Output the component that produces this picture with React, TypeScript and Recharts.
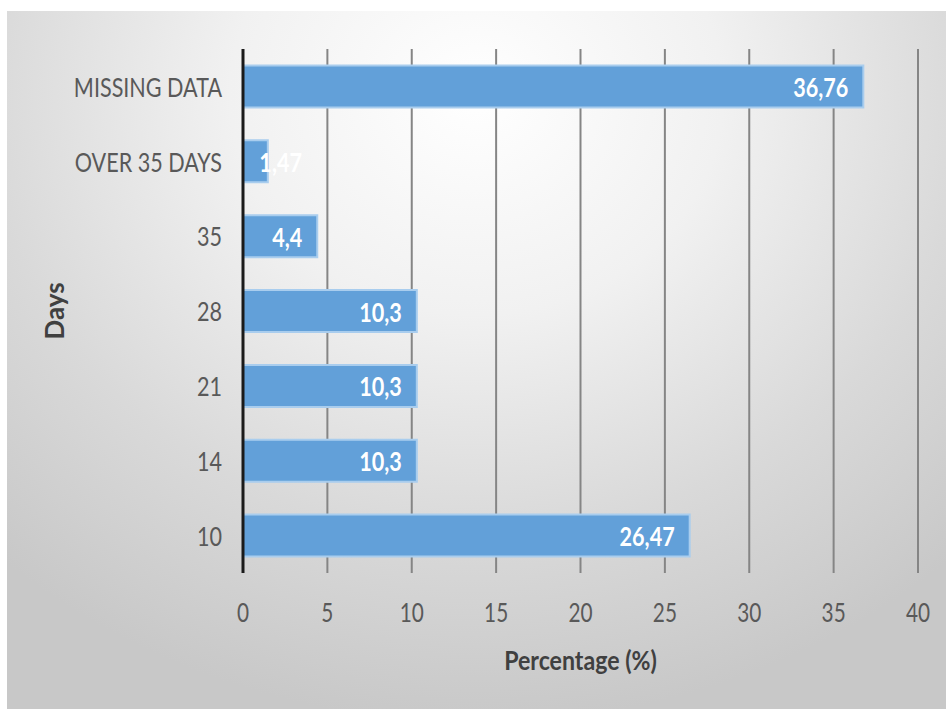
import {
  BarChart, Bar, XAxis, YAxis, CartesianGrid, LabelList, Label,
} from 'recharts'

// categories top -> bottom, as in the picture
const days = ['MISSING DATA', 'OVER 35 DAYS', '35', '28', '21', '14', '10']
const percentages = [36.76, 1.47, 4.4, 10.3, 10.3, 10.3, 26.47]
const xTicks = [0, 5, 10, 15, 20, 25, 30, 35, 40]

const FONT = 'Lato, "Open Sans", sans-serif'
// the original font is narrow (Calibri-like), so squeeze the text horizontally
const SQUEEZE = 0.8

const data = days.map((d, i) => ({ name: d, value: percentages[i] }))

function NarrowText({ x, y, anchor, size, weight, color, dy, squeeze = SQUEEZE, children }: any) {
  return (
    <g transform={`translate(${x}, ${y}) scale(${squeeze}, 1)`}>
      <text
        x={0}
        y={0}
        dy={dy}
        textAnchor={anchor}
        dominantBaseline={dy ? undefined : 'central'}
        fill={color}
        fontSize={size}
        fontWeight={weight}
        fontFamily={FONT}
      >
        {children}
      </text>
    </g>
  )
}

function YTick(props: any) {
  const { x, y, payload } = props
  return <NarrowText x={x} y={y} anchor="end" size={26} weight={400} color="#595959" squeeze={0.83}>{payload.value}</NarrowText>
}

function XTick(props: any) {
  const { x, y, payload } = props
  return <NarrowText x={x} y={y} anchor="middle" size={26} weight={400} color="#595959" dy="0.71em">{payload.value}</NarrowText>
}

// comma decimals, label sits inside the bar end (pushed out when the bar is too short)
function BarValue(props: any) {
  const { x, y, width, height, value } = props
  const endX = Math.max(x + width - 15, x + 59)
  return (
    <NarrowText x={endX} y={y + height / 2} anchor="end" size={27} weight={700} color="#ffffff">
      {String(value).replace('.', ',')}
    </NarrowText>
  )
}

export default function App() {
  return (
    <div style={{ position: 'absolute', left: 0, top: 0, width: 946, height: 709, background: '#fff', overflow: 'hidden' }}>
      <div
        style={{
          position: 'absolute', left: 7, top: 11, width: 939, height: 698,
          background: 'radial-gradient(ellipse 75% 90% at 50% 12%, #ffffff 0%, #f1f1f1 35%, #d9d9d9 70%, #c8c8c8 100%)',
        }}
      >
        <BarChart
          width={939}
          height={698}
          data={data}
          layout="vertical"
          margin={{ top: 38, right: 28, bottom: 0, left: 0 }}
          barCategoryGap="22%"
          style={{ fontFamily: FONT }}
        >
          <CartesianGrid horizontal={false} vertical stroke="#858585" strokeWidth={2} />
          <XAxis
            type="number"
            domain={[0, 40]}
            ticks={xTicks}
            axisLine={false}
            tickLine={false}
            tickSize={0}
            tickMargin={31}
            height={136}
            tick={<XTick />}
          >
            <Label
              content={(p: any) => {
                const vb = p.viewBox
                return (
                  <NarrowText x={vb.x + vb.width / 2} y={vb.y + vb.height - 49} anchor="middle" size={26} weight={700} color="#404040" squeeze={0.89}>
                    Percentage (%)
                  </NarrowText>
                )
              }}
            />
          </XAxis>
          <YAxis
            type="category"
            dataKey="name"
            width={236}
            axisLine={{ stroke: '#1a1a1a', strokeWidth: 3 }}
            tickLine={false}
            tickSize={0}
            tickMargin={21}
            tick={<YTick />}
          >
            <Label
              content={(p: any) => {
                const vb = p.viewBox
                const cx = vb.x + 47
                const cy = vb.y + vb.height / 2
                return (
                  <g transform={`translate(${cx}, ${cy}) rotate(-90)`}>
                    <text
                      x={0}
                      y={0}
                      textAnchor="middle"
                      dominantBaseline="central"
                      fill="#404040"
                      fontSize={26}
                      fontWeight={700}
                      fontFamily={FONT}
                    >
                      Days
                    </text>
                  </g>
                )
              }}
            />
          </YAxis>
          <Bar dataKey="value" fill="#62a0d9" stroke="#a9cdee" strokeWidth={2} isAnimationActive={false}>
            <LabelList dataKey="value" content={<BarValue />} />
          </Bar>
        </BarChart>
      </div>
    </div>
  )
}
